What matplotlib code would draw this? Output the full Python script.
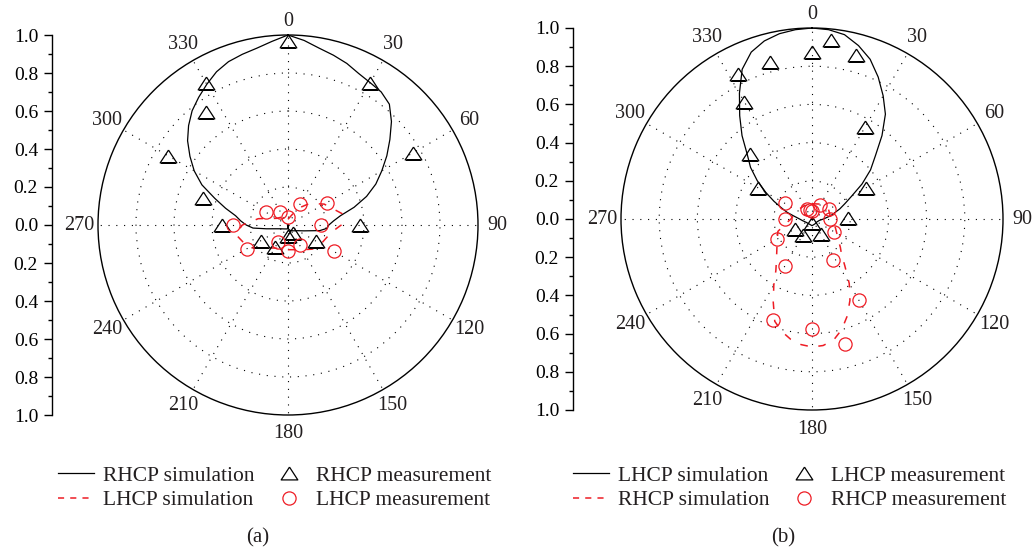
import numpy as np
import matplotlib.pyplot as plt
from matplotlib.lines import Line2D
from matplotlib.ticker import MultipleLocator, FuncFormatter

plt.rcParams['font.family'] = ['Liberation Serif', 'DejaVu Serif']
plt.rcParams['text.color'] = '#231f20'

# ---- panel (a): angles in degrees, clockwise from boresight ----
a_sim_main_deg = [0, 5, 10, 15, 20, 25, 30, 35, 40, 45, 50, 55, 60, 65, 70, 75, 80, 85,
                  90, 95, 100, 110, 120, 140, 160, 175, 180, 185, 200, 220, 240, 250,
                  260, 265, 270, 275, 280, 285, 290, 295, 300, 305, 310, 315, 320, 325,
                  330, 335, 340, 345, 350, 355, 360]
a_sim_main_r = [1.0, 0.975, 0.945, 0.925, 0.905, 0.88, 0.865, 0.855, 0.83, 0.77, 0.70, 0.635,
                0.57, 0.51, 0.44, 0.36, 0.28, 0.24, 0.215, 0.205, 0.17, 0.09, 0.06, 0.04,
                0.03, 0.02, 0.0, 0.02, 0.022, 0.027, 0.04, 0.058, 0.115, 0.185, 0.22, 0.25,
                0.28, 0.34, 0.41, 0.50, 0.57, 0.63, 0.69, 0.74, 0.785, 0.82, 0.855, 0.89,
                0.915, 0.93, 0.945, 0.97, 1.0]

a_sim_cross_deg = [0, 30, 45, 60, 78, 90, 100, 120, 135, 150, 180, 210, 225, 240, 260,
                   270, 282, 300, 330, 360]
a_sim_cross_r = [0.03, 0.10, 0.16, 0.22, 0.29, 0.28, 0.23, 0.20, 0.18, 0.15, 0.13, 0.14,
                 0.17, 0.24, 0.28, 0.24, 0.16, 0.07, 0.05, 0.03]

a_meas_main_deg = [0, 30, 60, 90, 120, 150, 180, 210, 240, 270, 288, 300, 324, 330]
a_meas_main_r = [0.97, 0.86, 0.76, 0.38, 0.17, 0.05, 0.058, 0.136, 0.167, 0.347, 0.468,
                 0.731, 0.733, 0.861]

a_meas_cross_deg = [0, 30, 60, 90, 120, 150, 180, 210, 240, 270, 300, 330]
a_meas_cross_r = [0.04, 0.127, 0.235, 0.172, 0.277, 0.123, 0.135, 0.106, 0.25, 0.29,
                  0.135, 0.08]

# ---- panel (b) ----
b_sim_main_deg = [0, 5, 10, 15, 20, 25, 30, 35, 40, 45, 50, 55, 60, 65, 70, 80, 90, 100,
                  120, 150, 180, 210, 240, 260, 270, 280, 285, 290, 295, 300, 305, 310,
                  315, 320, 325, 330, 335, 340, 345, 350, 355, 360]
b_sim_main_r = [1.0, 0.995, 0.98, 0.94, 0.89, 0.82, 0.745, 0.67, 0.57, 0.47, 0.40, 0.32,
                0.24, 0.19, 0.155, 0.10, 0.06, 0.04, 0.03, 0.03, 0.035, 0.03, 0.035, 0.05,
                0.065, 0.10, 0.135, 0.17, 0.22, 0.28, 0.35, 0.42, 0.48, 0.57, 0.66, 0.76,
                0.865, 0.93, 0.965, 0.985, 0.995, 1.0]

b_sim_cross_deg = [0, 30, 60, 90, 100, 110, 120, 127, 135, 140, 145, 150, 155, 160, 165,
                   170, 175, 180, 185, 190, 195, 200, 205, 210, 215, 220, 230, 240, 250,
                   260, 270, 300, 330, 360]
b_sim_cross_r = [0.08, 0.09, 0.10, 0.10, 0.11, 0.13, 0.15, 0.17, 0.21, 0.24, 0.30, 0.39,
                 0.47, 0.54, 0.60, 0.645, 0.665, 0.67, 0.66, 0.64, 0.61, 0.57, 0.48, 0.40,
                 0.33, 0.29, 0.24, 0.21, 0.19, 0.14, 0.11, 0.09, 0.08, 0.08]

b_meas_main_deg = [0, 6, 15, 30, 60, 88, 150, 180, 210, 240, 300, 316, 330, 333, 345]
b_meas_main_r = [0.874, 0.944, 0.887, 0.554, 0.328, 0.19, 0.09, 0.022, 0.095, 0.10, 0.327,
                 0.471, 0.708, 0.852, 0.85]

b_meas_cross_deg = [0, 30, 60, 90, 120, 150, 153, 165, 180, 201, 210, 240, 270, 300, 333, 348]
b_meas_cross_r = [0.042, 0.085, 0.10, 0.094, 0.135, 0.488, 0.242, 0.675, 0.575, 0.568,
                  0.287, 0.211, 0.141, 0.164, 0.061, 0.05]

angle_ticks = list(range(0, 360, 30))
minor_ticks = list(range(0, 360, 15))

W, H = 1033, 554
fig = plt.figure(figsize=(W / 100, H / 100), dpi=100)

tri = [(0, 0.77), (-1, -0.77), (1, -0.77), (0, 0.77)]
red = '#ee1c24'
tri_ms, circ_ms = 12, 9.5


def polar_panel(cx, cy, R):
    ax = fig.add_axes([(cx - R) / W, (H - cy - R) / H, 2 * R / W, 2 * R / H],
                      projection='polar')
    ax.set_theta_zero_location('N')
    ax.set_theta_direction(-1)
    ax.set_ylim(0, 1)
    ax.set_yticks([0.2, 0.4, 0.6, 0.8])
    ax.set_yticklabels([])
    ax.set_xticks(np.radians(angle_ticks))
    ax.set_xticklabels([])
    ax.set_xticks(np.radians(minor_ticks), minor=True)
    ax.grid(True, color='k', ls=(0, (1, 6)), lw=0.8)
    ax.tick_params(axis='y', length=0)
    ax.tick_params(axis='x', which='both', direction='in', length=4, width=0.8)
    ax.spines['polar'].set_linewidth(1.0)
    for a in angle_ticks:
        rr = 1.07 if a == 0 else 1.1
        ax.text(np.radians(a), rr, str(a), ha='center', va='center', fontsize=14.5)
    return ax


def scale_axis(x, cy, R):
    ax = fig.add_axes([x / W, (H - cy - R) / H, 0.01, 2 * R / H])
    ax.set_ylim(-1, 1)
    for s in ['top', 'right', 'bottom']:
        ax.spines[s].set_visible(False)
    ax.spines['left'].set_linewidth(1.0)
    ax.set_xticks([])
    ax.patch.set_visible(False)
    ax.yaxis.set_major_locator(MultipleLocator(0.2))
    ax.yaxis.set_minor_locator(MultipleLocator(0.1))
    ax.yaxis.set_major_formatter(FuncFormatter(lambda v, p: f'{abs(v):.1f}'))
    ax.tick_params(axis='y', which='major', length=6, width=1, labelsize=14, pad=4)
    ax.tick_params(axis='y', which='minor', length=3, width=1)


def draw(ax, sm_d, sm_r, sc_d, sc_r, mm_d, mm_r, mc_d, mc_r):
    ax.plot(np.radians(sm_d), sm_r, color='k', lw=0.9)
    ax.plot(np.radians(sc_d), sc_r, color=red, lw=1.1, ls=(0, (5, 7)))
    ax.plot(np.radians(mm_d), mm_r, ls='none', marker=tri, ms=tri_ms, mfc='none',
            mec='k', mew=0.9)
    ax.plot(np.radians(mc_d), mc_r, ls='none', marker='o', ms=circ_ms, mfc='none',
            mec=red, mew=0.9)


axa = polar_panel(288, 225, 190)
scale_axis(52, 225, 190)
draw(axa, a_sim_main_deg, a_sim_main_r, a_sim_cross_deg, a_sim_cross_r,
     a_meas_main_deg, a_meas_main_r, a_meas_cross_deg, a_meas_cross_r)

axb = polar_panel(812, 219, 191)
scale_axis(573, 219, 191)
draw(axb, b_sim_main_deg, b_sim_main_r, b_sim_cross_deg, b_sim_cross_r,
     b_meas_main_deg, b_meas_main_r, b_meas_cross_deg, b_meas_cross_r)


def legend(xc, names):
    handles = [Line2D([], [], color='k', lw=0.9),
               Line2D([], [], color=red, lw=1.1, ls=(0, (4, 4))),
               Line2D([], [], ls='none', marker=tri, ms=tri_ms, mfc='none', mec='k', mew=0.9),
               Line2D([], [], ls='none', marker='o', ms=circ_ms, mfc='none', mec=red, mew=0.9)]
    leg = fig.legend(handles, names, ncol=2, loc='center',
                     bbox_to_anchor=(xc / W, (H - 488) / H), frameon=False,
                     fontsize=15.5, handlelength=1.65, handletextpad=0.45,
                     columnspacing=0.75, labelspacing=0.2)
    return leg


legend(275, ['RHCP simulation', 'LHCP simulation', 'RHCP measurement', 'LHCP measurement'])
legend(790, ['LHCP simulation', 'RHCP simulation', 'LHCP measurement', 'RHCP measurement'])

fig.text(258 / W, (H - 538) / H, '(a)', ha='center', va='center', fontsize=15)
fig.text(783 / W, (H - 538) / H, '(b)', ha='center', va='center', fontsize=15)

fig.savefig('out.png', dpi=100)
